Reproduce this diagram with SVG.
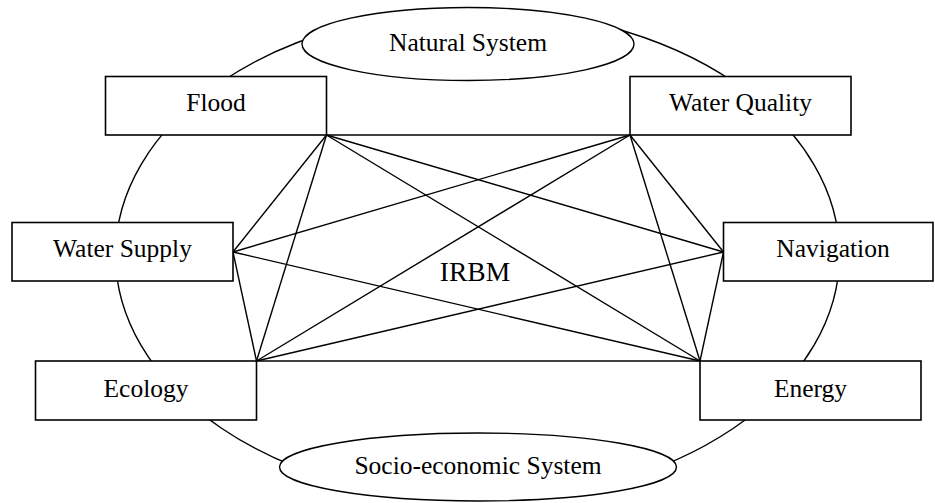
<svg xmlns="http://www.w3.org/2000/svg" width="935" height="503" viewBox="0 0 935 503">
  <style>
    .outline { fill: none; stroke: #000; stroke-width: 1.4; }
    .box { fill: #fff; stroke: #000; stroke-width: 1.6; }
    .sys { fill: #fff; stroke: #000; stroke-width: 1.4; }
    .lbl { font-family: "Liberation Serif", "Times New Roman", serif; font-size: 25.5px; fill: #000; text-anchor: middle; }
    #links line { stroke: #000; stroke-width: 1.4; }
  </style>
  <rect width="935" height="503" fill="#fff"/>

  <!-- outer boundary -->
  <ellipse id="boundary" class="outline" cx="477.5" cy="255" rx="362" ry="245"/>

  <!-- relationships between the management themes -->
  <g id="links">
    <!-- Flood -->
    <line x1="326.5" y1="135" x2="630" y2="135"/>
    <line x1="326.5" y1="135" x2="233" y2="252"/>
    <line x1="326.5" y1="135" x2="723.5" y2="252"/>
    <line x1="326.5" y1="135" x2="256.5" y2="361"/>
    <line x1="326.5" y1="135" x2="700" y2="361"/>
    <!-- Water Quality -->
    <line x1="630" y1="135" x2="233" y2="252"/>
    <line x1="630" y1="135" x2="723.5" y2="252"/>
    <line x1="630" y1="135" x2="256.5" y2="361"/>
    <line x1="630" y1="135" x2="700" y2="361"/>
    <!-- Water Supply -->
    <line x1="233" y1="252" x2="256.5" y2="361"/>
    <line x1="233" y1="252" x2="700" y2="361"/>
    <!-- Navigation -->
    <line x1="723.5" y1="252" x2="256.5" y2="361"/>
    <line x1="723.5" y1="252" x2="700" y2="361"/>
    <!-- Ecology / Energy -->
    <line x1="256.5" y1="361" x2="700" y2="361"/>
  </g>

  <g id="natural-system">
    <ellipse class="sys" cx="468" cy="44" rx="166" ry="36.5"/>
    <text class="lbl" x="468" y="51">Natural System</text>
  </g>

  <g id="socio-economic-system">
    <ellipse class="sys" cx="478" cy="467" rx="198.5" ry="34"/>
    <text class="lbl" x="478" y="474">Socio-economic System</text>
  </g>

  <g id="flood">
    <rect class="box" x="105.5" y="76.5" width="221" height="58.5"/>
    <text class="lbl" x="216" y="111">Flood</text>
  </g>

  <g id="water-quality">
    <rect class="box" x="630" y="76.5" width="221" height="58.5"/>
    <text class="lbl" x="740.5" y="111">Water Quality</text>
  </g>

  <g id="water-supply">
    <rect class="box" x="12" y="222.5" width="221" height="58.5"/>
    <text class="lbl" x="122.5" y="256.5">Water Supply</text>
  </g>

  <g id="navigation">
    <rect class="box" x="723.5" y="222.5" width="209.5" height="58.5"/>
    <text class="lbl" x="833" y="256.5">Navigation</text>
  </g>

  <g id="ecology">
    <rect class="box" x="35.5" y="361" width="221" height="59"/>
    <text class="lbl" x="146" y="396.5">Ecology</text>
  </g>

  <g id="energy">
    <rect class="box" x="700" y="361" width="221" height="59"/>
    <text class="lbl" x="810.5" y="396.5">Energy</text>
  </g>

  <g id="irbm">
    <text class="lbl" x="475" y="281" style="font-size:27.5px">IRBM</text>
  </g>
</svg>
